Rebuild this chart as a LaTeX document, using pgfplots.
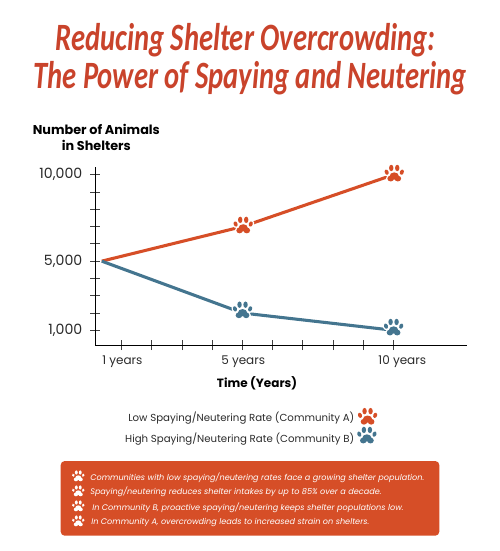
\documentclass[border=0pt]{standalone}
\usepackage{fontspec}
\usepackage{pgfplots}
\usepackage{graphicx}
\pgfplotsset{compat=1.18}
\setmainfont{Poppins}
\newfontfamily\titlefont{Carlito}
\definecolor{redc}{HTML}{D64E27}
\definecolor{bluec}{HTML}{44758F}
\definecolor{titlec}{HTML}{C9432B}
\definecolor{txt}{HTML}{2A2A2A}
\newcommand\pe[6]{\pgfpathellipse{\pgfpoint{#1*.75pt}{#2*.75pt}}{\pgfpoint{#3*.75pt}{#4*.75pt}}{\pgfpoint{#5*.75pt}{#6*.75pt}}}
\newcommand\pawpath{%
  \pe{0}{-2.6}{4.6}{0}{0}{3.6}%
  \pe{-3.6}{-5.2}{3.3}{0}{0}{2.9}%
  \pe{3.6}{-5.2}{3.3}{0}{0}{2.9}%
  \pe{-3}{5.4}{2.2}{0}{0}{3.2}%
  \pe{3}{5.4}{2.2}{0}{0}{3.2}%
  \pe{-7.6}{1.2}{1.8}{.75}{-1.0}{2.5}%
  \pe{7.6}{1.2}{1.8}{-.75}{1.0}{2.5}%
}
\pgfdeclareplotmark{paw}{\pawpath\pgfusepathqstroke\pawpath\pgfusepathqfill}
\tikzset{pawpic/.pic={\pgfsetfillcolor{white}\pawpath\pgfusepathqfill}}
\begin{document}
\begin{tikzpicture}[x=0.75pt,y=-0.75pt]
\path[use as bounding box] (0,0) rectangle (500,551);
\node[titlec,font=\titlefont\fontsize{29}{32}\selectfont\bfseries\itshape] at (245.5,40) {\scalebox{0.74}[1]{Reducing Shelter Overcrowding:}};
\node[titlec,font=\titlefont\fontsize{29}{32}\selectfont\bfseries\itshape] at (250,78) {\scalebox{0.74}[1]{The Power of Spaying and Neutering}};
\begin{axis}[
  at={(71.475pt,-258.75pt)},anchor=south west,
  scale only axis,width=278.775pt,height=133.5pt,
  xmin=0.126,xmax=12.43,ymin=149,ymax=10446,
  axis lines=left,axis line style={-,black,line width=0.75pt},
  scaled y ticks=false,
  xtick={1,2,...,10},
  xticklabels={\hspace{1pt}1 years,,,,\hspace{1pt}5 years,,,,,\hspace{13pt}10 years},
  ytick={1000,2000,...,10000},
  yticklabels={{1,000},,,,{5,000},,,,,{10,000}},
  tick align=center,
  major tick length=7.5pt,
  tick style={black!75,line width=0.75pt},
  tick label style={font=\fontsize{9}{11}\selectfont,text=txt},
  xticklabel style={yshift=-1pt},
  yticklabel style={xshift=-2.5pt,font=\fontsize{10.6}{12}\selectfont},
  xlabel={Time (Years)},
  xlabel style={at={(axis description cs:0.435,0)},anchor=center,yshift=-28.5pt,font=\fontsize{9}{11}\selectfont\bfseries,text=black},
  ylabel={Number of Animals\\in Shelters},
  ylabel style={at={(axis description cs:0,1)},rotate=-90,anchor=south,align=center,xshift=0.8pt,yshift=8.8pt,font=\fontsize{9.6}{11.6}\selectfont\bfseries,text=black},
  legend plot pos=right,
  legend cell align=right,
  legend style={at={(axis description cs:0.76,-0.352)},anchor=north east,draw=none,fill=none,
    font=\fontsize{7.65}{9}\selectfont,text=txt,row sep=0.3pt,inner sep=0pt},
  clip=false,
]
\addplot[redc,line width=2.3pt,forget plot] coordinates {(0.34,5000)(5,7000)(10,10000)};
\addplot[bluec,line width=2.3pt,forget plot] coordinates {(0.34,5000)(5,2000)(10,1000)};
\addplot[only marks,mark=paw,mark options={fill=redc,draw=white,line width=2pt,yshift=1pt,xshift=0.5pt}] coordinates {(5,7000)(10,10000)};
\addplot[only marks,mark=paw,mark options={fill=bluec,draw=white,line width=2pt,yshift=2.2pt}] coordinates {(5,2000)(10,1000)};
\legend{Low Spaying/Neutering Rate (Community A),High Spaying/Neutering Rate (Community B)}
\end{axis}
\fill[redc,rounded corners=3pt] (60.7,461) rectangle (439.3,535.7);
\foreach \yy in {476,491,506,521} \pic[scale=0.65] at (78.3,\yy) {pawpic};
\begin{scope}[every node/.style={anchor=west,inner sep=0pt,white,font=\fontsize{6.1}{8}\selectfont\itshape}]
\node at (90,477.3) {Communities with low spaying/neutering rates face a growing shelter population.};
\node at (90,491.7) {Spaying/neutering reduces shelter intakes by up to 85\% over a decade.};
\node at (92,508) {In Community B, proactive spaying/neutering keeps shelter populations low.};
\node at (91,522) {In Community A, overcrowding leads to increased strain on shelters.};
\end{scope}
\end{tikzpicture}
\end{document}
